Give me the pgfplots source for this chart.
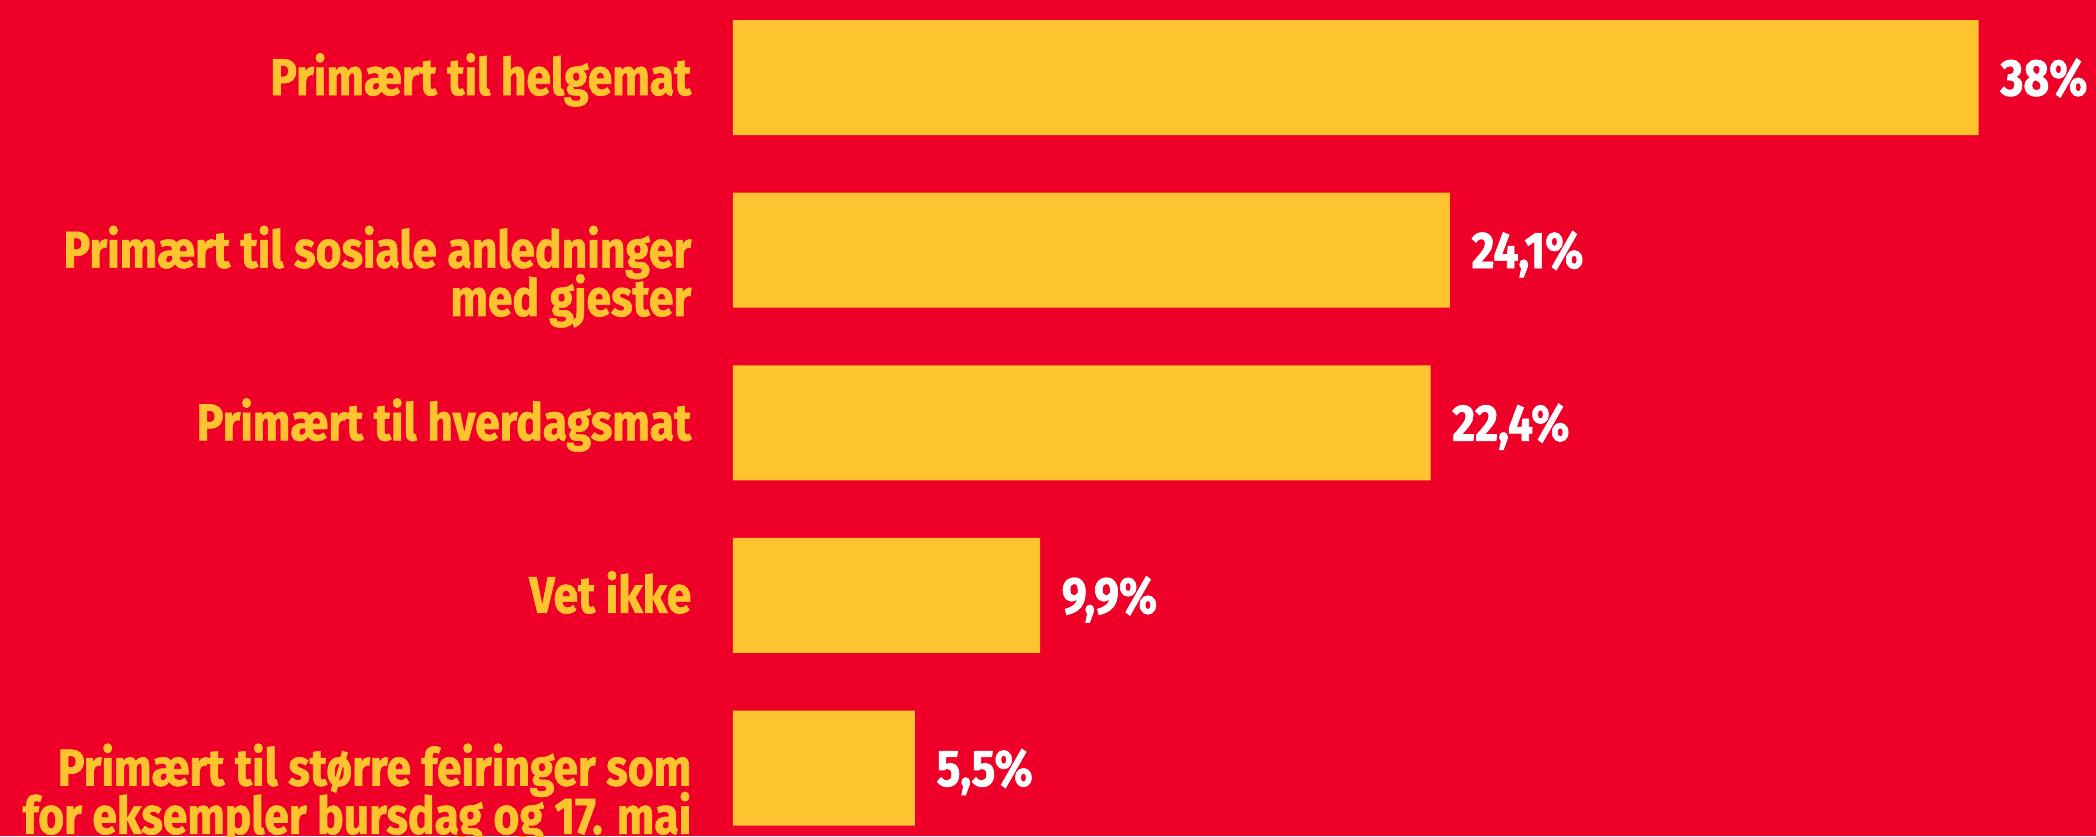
\documentclass[border=0pt]{standalone}
\usepackage{fontspec}
\setmainfont{Fira Sans}[FakeStretch=0.86, BoldFeatures={FakeBold=1.2}]
\usepackage{pgfplots}
\pgfplotsset{compat=1.18}
\definecolor{bgR}{HTML}{EE0028}
\definecolor{barY}{HTML}{FEC430}
\newcommand{\lab}{\fontsize{14.7}{13.75}\selectfont\bfseries}
% two right-aligned lines, baseline on the first one
\newcommand{\two}[2]{\vtop{\baselineskip=13.75pt\lineskiplimit=-20pt\lineskip=0pt
    \halign{\hfil##\cr #1\cr #2\cr}}}
\begin{document}
\begin{tikzpicture}
\fill[bgR] (-73.3mm,0) rectangle (136.3mm,83.6mm);
\begin{axis}[
    scale only axis,
    width=136.3mm, height=83.6mm,
    xbar, bar width=11.5mm,
    xmin=0, xmax=41.58,
    ymin=-0.449, ymax=4.394,
    y dir=reverse,
    axis line style={draw=none},
    tick style={draw=none},
    xtick=\empty,
    ytick={0,1,2,3,4},
    yticklabels={
        {Primært til helgemat},
        {\two{Primært til sosiale anledninger}{med gjester}},
        {Primært til hverdagsmat},
        {Vet ikke},
        {\two{Primært til større feiringer som}{for eksempler bursdag og 17. mai}}},
    yticklabel style={text=barY, font=\lab, anchor=base east,
        inner sep=0pt, xshift=-2.6mm, yshift=-1.75mm},
    point meta=explicit symbolic,
    nodes near coords,
    nodes near coords style={text=white, font=\lab, anchor=base west,
        inner sep=0pt, xshift=2.1mm, yshift=-1.8mm},
    clip=false,
]
% bar lengths as drawn; labels as printed
\addplot[fill=barY, draw=none] coordinates {
    (38,0) [38\%]
    (21.87,1) [24,1\%]
    (21.28,2) [22,4\%]
    (9.37,3) [9,9\%]
    (5.55,4) [5,5\%]
};
\end{axis}
\pgfresetboundingbox
\path (-73.3mm,0) rectangle (136.3mm,83.6mm);
\end{tikzpicture}
\end{document}
